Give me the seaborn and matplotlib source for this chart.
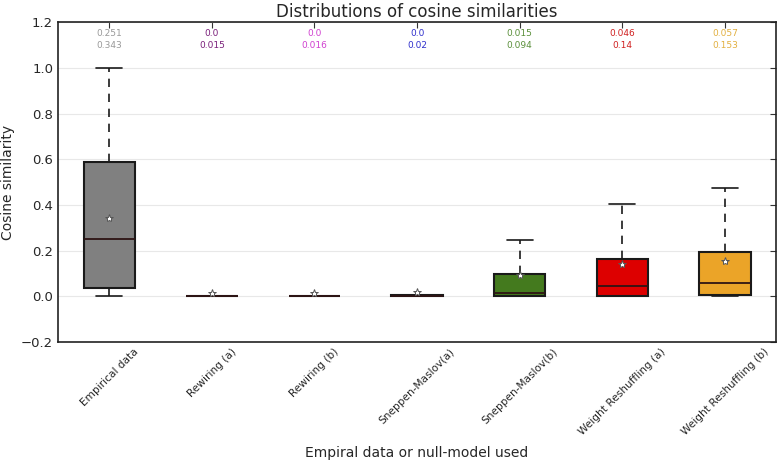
import matplotlib
matplotlib.use('Agg')
import matplotlib.pyplot as plt
import seaborn as sns
import pandas as pd

# Summary statistics
labels = ['Empirical data', 'Rewiring (a)', 'Rewiring (b)', 'Sneppen-Maslov(a)',
          'Sneppen-Maslov(b)', 'Weight Reshuffling (a)', 'Weight Reshuffling (b)']
medians = [0.251, 0.0, 0.0, 0.0, 0.015, 0.046, 0.057]
means = [0.343, 0.015, 0.016, 0.02, 0.094, 0.14, 0.153]
q1 = [0.038, 0.0, 0.0, 0.0, 0.0, 0.003, 0.006]
q3 = [0.589, 0.002, 0.002, 0.006, 0.096, 0.165, 0.194]
whislo = [0.0, 0.0, 0.0, 0.0, 0.0, 0.0, 0.0]
whishi = [1.0, 0.002, 0.002, 0.006, 0.245, 0.406, 0.475]

box_colors = ['#808080', '#800080', '#cc33cc', '#0000cc', '#447a1e', '#dd0000', '#eba428']
text_colors = ['#999999', '#7a1f7a', '#d040d0', '#3030cc', '#5a8f3a', '#d02020', '#e2b040']

df = pd.DataFrame({'label': labels, 'median': medians, 'mean': means,
                   'q1': q1, 'q3': q3, 'whislo': whislo, 'whishi': whishi})

sns.set_style('white')
plt.rcParams['font.family'] = ['DejaVu Sans']

fig, ax = plt.subplots(figsize=(7.84, 4.67), dpi=100)
fig.subplots_adjust(left=0.074, right=0.99, top=0.952, bottom=0.268)

# build box stats from the arrays above
stats = []
for _, row in df.iterrows():
    stats.append({'label': row['label'], 'med': row['median'], 'mean': row['mean'],
                  'q1': row['q1'], 'q3': row['q3'],
                  'whislo': row['whislo'], 'whishi': row['whishi'], 'fliers': []})

positions = list(range(len(labels)))
bp = ax.bxp(stats, positions=positions, widths=0.5, patch_artist=True,
            showmeans=True, showfliers=False,
            boxprops=dict(edgecolor='#1a1a1a', linewidth=1.5),
            medianprops=dict(color='#2e1414', linewidth=1.3),
            whiskerprops=dict(color='#1a1a1a', linewidth=1.2, linestyle=(0, (5, 4))),
            capprops=dict(color='#1a1a1a', linewidth=1.2),
            meanprops=dict(marker='*', markerfacecolor='white', markeredgecolor='#555555',
                           markersize=6, markeredgewidth=0.7))
for patch, c in zip(bp['boxes'], box_colors):
    patch.set_facecolor(c)

# median and mean annotations on top
for i, row in df.iterrows():
    ax.text(i, 1.153, str(row['median']), ha='center', va='center',
            fontsize=6.5, color=text_colors[i])
    ax.text(i, 1.101, str(row['mean']), ha='center', va='center',
            fontsize=6.5, color=text_colors[i])

ax.set_xlim(-0.5, len(labels) - 0.5)
ax.set_ylim(-0.2, 1.2)
ax.set_yticks([-0.2, 0.0, 0.2, 0.4, 0.6, 0.8, 1.0, 1.2])
ax.set_xticks(positions)
ax.set_xticklabels(labels, rotation=45, ha='center', fontsize=7.6)
ax.tick_params(axis='y', labelsize=9.5)
ax.tick_params(direction='in', top=True, right=True, length=4, width=0.8, color='#333333')
ax.yaxis.grid(True, color='#e8e8e8', linewidth=0.8)
ax.set_axisbelow(True)
for s in ax.spines.values():
    s.set_color('#222222')
    s.set_linewidth(1.2)

ax.set_title('Distributions of cosine similarities', fontsize=12, pad=4)
ax.set_xlabel('Empiral data or null-model used', fontsize=10, labelpad=6)
ax.set_ylabel('Cosine similarity', fontsize=10)

fig.savefig('out.png', dpi=100)
